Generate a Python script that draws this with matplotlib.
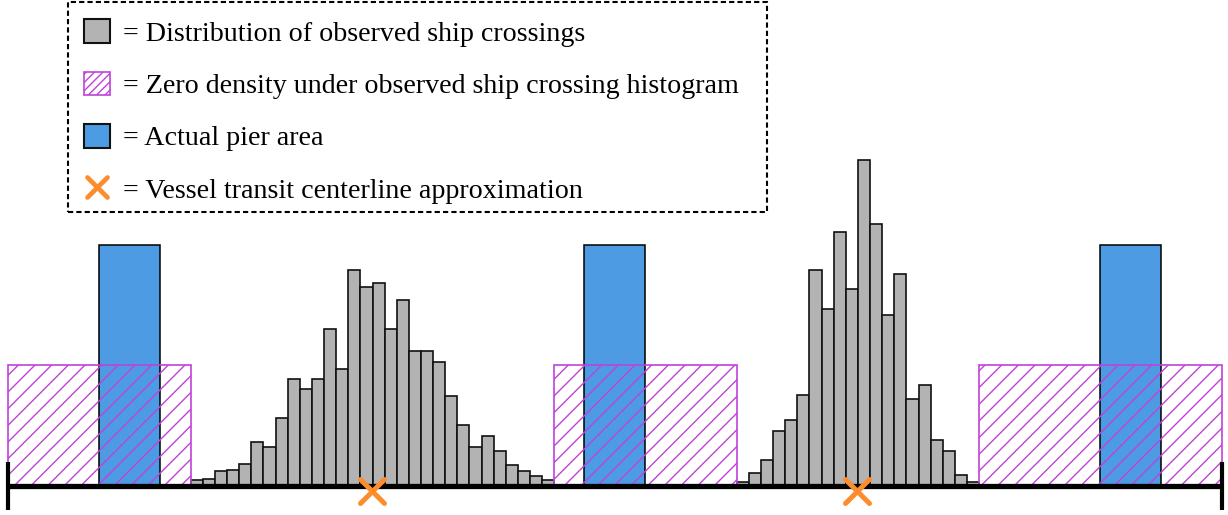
import matplotlib
matplotlib.use("Agg")
import matplotlib.pyplot as plt
import numpy as np
from matplotlib.patches import Patch, Rectangle
from matplotlib.lines import Line2D
from matplotlib.markers import MarkerStyle

# ---- data (horizontal position along the crossing section, density height) ----
bin_width = 12.12
hist1_start = 190.7
hist1_counts = [5.5, 7, 15, 16, 22, 44, 38.5, 68, 107, 96.5, 107, 157, 117, 215.5,
                199, 202.5, 157, 185.5, 134.5, 135, 124, 90, 61, 39, 49.5, 35, 21,
                14.5, 9.5, 5.5]
hist2_start = 736.7
hist2_counts = [4, 12.5, 25.5, 54.5, 66, 90.5, 216, 176.5, 254, 197, 326, 262,
                170.5, 212, 87, 101, 46, 35, 11, 4]

pier_centers = [129.5, 614.5, 1130.5]
pier_width = 61
pier_height = 241

zero_zones = [(8, 190.7), (554, 736.7), (979.3, 1221.7)]
zero_zone_height = 120.5

centerlines = [372, 857]
section_span = (8, 1221.7)

legend_labels = ["= Distribution of observed ship crossings",
                 "= Zero density under observed ship crossing histogram",
                 "= Actual pier area",
                 "= Vessel transit centerline approximation"]

# ---- style ----
GREY = "#b3b3b3"
BLUE = "#4c9be3"
MAGENTA = "#c042d8"
ORANGE = "#fd8d2c"

plt.rcParams["font.family"] = ["Liberation Serif", "DejaVu Serif"]
plt.rcParams["hatch.linewidth"] = 1.0

W, H = 1228, 515
fig = plt.figure(figsize=(W / 100, H / 100), dpi=100)
ax = fig.add_axes([0, 0, 1, 1])
ax.set_xlim(0, W)
ax.set_ylim(-29.5, 485.5)
ax.axis("off")

# piers
ax.bar(pier_centers, [pier_height] * len(pier_centers), width=pier_width,
       color=BLUE, edgecolor="black", linewidth=1.1, zorder=2)

# zero-density zones (hatched, drawn over the piers)
for x0, x1 in zero_zones:
    ax.add_patch(Rectangle((x0, 0), x1 - x0, zero_zone_height, facecolor="none",
                           edgecolor=MAGENTA, hatch="//", linewidth=1.2, zorder=3))

# observed crossing histograms
for start, counts in [(hist1_start, hist1_counts), (hist2_start, hist2_counts)]:
    edges = start + bin_width * np.arange(len(counts))
    ax.bar(edges, counts, width=bin_width, align="edge", color=GREY,
           edgecolor="#111111", linewidth=1.2, zorder=2)

# section baseline with end ticks
ax.plot(section_span, [0, 0], color="black", linewidth=3.8,
        solid_capstyle="butt", zorder=4)
for xe in section_span:
    ax.plot([xe, xe], [-24.5, 23.5], color="black", linewidth=3.0,
            solid_capstyle="butt", zorder=4)

# centerline markers
xmark = MarkerStyle("x", capstyle="round")
ax.plot(centerlines, [-5.5] * len(centerlines), linestyle="none", marker=xmark,
        markersize=17, markeredgewidth=3.6, color=ORANGE, zorder=5, clip_on=False)

# legend
handles = [
    Patch(facecolor=GREY, edgecolor="#111111", linewidth=1.5),
    Patch(facecolor="white", edgecolor=MAGENTA, hatch="////", linewidth=1.2),
    Patch(facecolor=BLUE, edgecolor="#111111", linewidth=1.5),
    Line2D([], [], linestyle="none", marker=MarkerStyle("x", capstyle="round"),
           markersize=14, markeredgewidth=3.4, color=ORANGE),
]
leg = ax.legend(handles, legend_labels, loc="upper left",
                bbox_to_anchor=(68 / W, 1 - 3 / H), bbox_transform=fig.transFigure,
                borderaxespad=0, fontsize=20.2, frameon=False,
                handlelength=0.93, handleheight=0.93, handletextpad=0.46,
                labelspacing=0.88, borderpad=0.58)

# dashed box around the legend
box = Rectangle((68 / W, 1 - 212 / H), 699 / W, 210 / H, transform=fig.transFigure,
                facecolor="white", edgecolor="black", linewidth=1.5,
                linestyle=(0, (2.5, 1.5)), zorder=0)
fig.patches.append(box)
ax.set_zorder(1)
ax.patch.set_visible(False)

fig.savefig("out.png", dpi=100)
